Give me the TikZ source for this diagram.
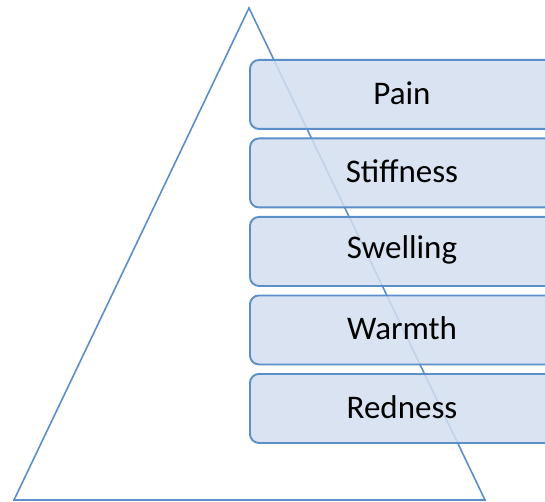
\documentclass[tikz,border=0pt]{standalone}
\usepackage{fontspec}
\setmainfont{Carlito}
\definecolor{lineblue}{RGB}{91,143,201}
\definecolor{boxfill}{RGB}{211,222,239}
\begin{document}
\begin{tikzpicture}[x=1pt,y=-1pt,
  item/.style={draw=lineblue, line width=1.9pt, fill=boxfill, fill opacity=0.85, text opacity=1,
    rounded corners=9pt, minimum width=330pt, minimum height=69pt, anchor=north west,
    inner sep=0pt},
  lbl/.style={font=\fontsize{33}{38}\selectfont, text=black, anchor=center}]
\useasboundingbox (0,0) rectangle (545,502);
\clip (0,0) rectangle (545,502);
\coordinate (apex) at (249,8);
\coordinate (bl) at (14,500);
\coordinate (br) at (485,500);
\draw[lineblue, line width=1.6pt, line join=miter] (apex) -- (br) -- (bl) -- cycle;
\foreach \name/\t/\y in {pain/Pain/59, stiff/Stiffness/137.5, swell/Swelling/216, warm/Warmth/294.5, red/Redness/373}{
  \node[item] (\name) at (249,\y) {};
  \node[lbl] (\name t) at (402,\y+34) {\t};
}
\end{tikzpicture}
\end{document}
